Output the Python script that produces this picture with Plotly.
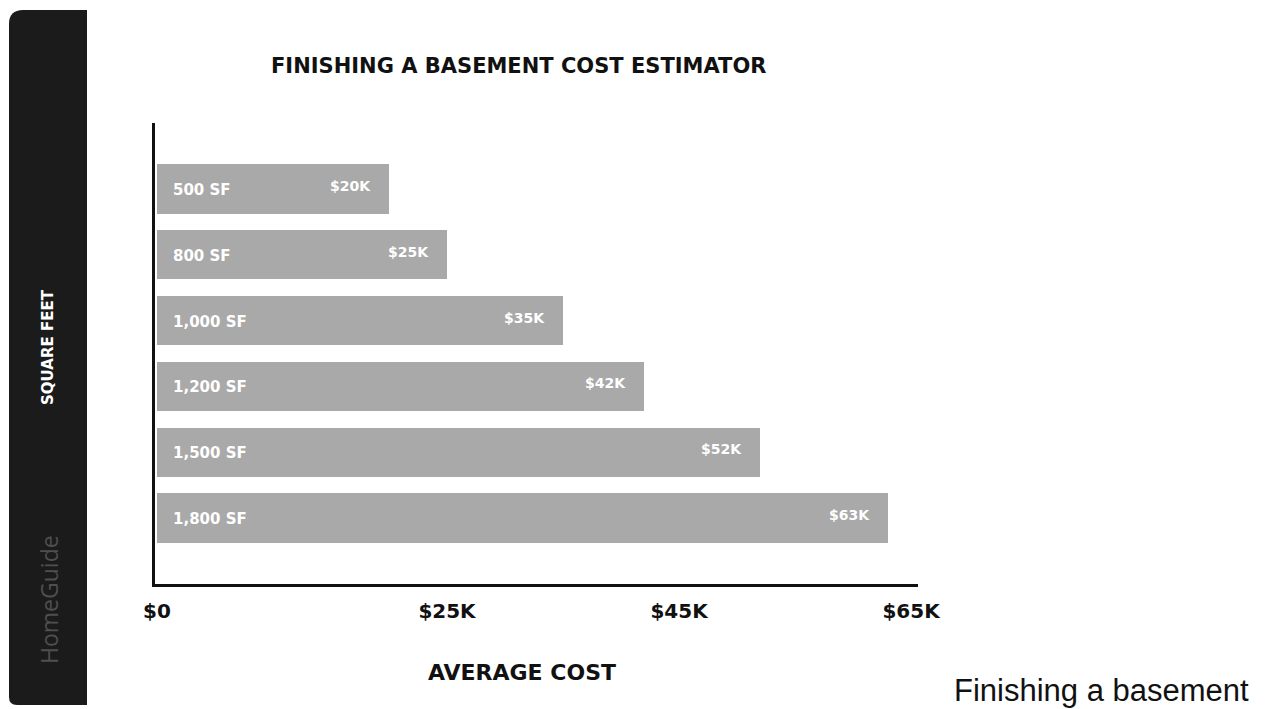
import plotly.graph_objects as go

# Basement finishing cost by floor area
sizes = ["500 SF", "800 SF", "1,000 SF", "1,200 SF", "1,500 SF", "1,800 SF"]
costs_k = [20, 25, 35, 42, 52, 63]
cost_labels = ["$20K", "$25K", "$35K", "$42K", "$52K", "$63K"]
tick_values = [0, 25, 45, 65]
tick_labels = ["$0", "$25K", "$45K", "$65K"]

W, H = 1266, 709
BAR_COLOR = "#a9a9a9"
BOLD_FONT = "DejaVu Sans"


def px(x):
    return x / W


def py(y):
    return 1 - y / H


idx = list(range(len(sizes)))

fig = go.Figure()
fig.add_trace(go.Bar(
    x=costs_k,
    y=idx,
    orientation="h",
    width=0.75,
    marker=dict(color=BAR_COLOR, line=dict(width=0)),
    hoverinfo="skip",
    showlegend=False,
))

annotations = []
for i, (s, c, lab) in enumerate(zip(sizes, costs_k, cost_labels)):
    annotations.append(dict(
        x=0, y=i, xref="x", yref="y", text=s, showarrow=False,
        xanchor="left", yanchor="middle", xshift=14, yshift=-1,
        font=dict(family=BOLD_FONT, size=15, color="white", weight="bold"),
    ))
    annotations.append(dict(
        x=c, y=i, xref="x", yref="y", text=lab, showarrow=False,
        xanchor="right", yanchor="middle", xshift=-16, yshift=3,
        font=dict(family=BOLD_FONT, size=14, color="white", weight="bold"),
    ))

# titles and side panel text
annotations += [
    dict(x=px(518), y=py(66), xref="paper", yref="paper",
         xanchor="center", yanchor="middle",
         text="FINISHING A BASEMENT COST ESTIMATOR", showarrow=False,
         font=dict(family=BOLD_FONT, size=21, color="#111", weight="bold")),
    dict(x=px(522), y=py(672), xref="paper", yref="paper",
         xanchor="center", yanchor="middle",
         text="AVERAGE COST", showarrow=False,
         font=dict(family=BOLD_FONT, size=22, color="#111", weight="bold")),
    dict(x=px(48), y=py(347), xref="paper", yref="paper",
         xanchor="center", yanchor="middle",
         text="SQUARE FEET", showarrow=False, textangle=-90,
         font=dict(family=BOLD_FONT, size=15, color="white", weight="bold")),
    dict(x=px(49), y=py(600), xref="paper", yref="paper",
         xanchor="center", yanchor="middle",
         text="HomeGuide", showarrow=False, textangle=-90,
         font=dict(family="Open Sans", size=23, color="#4f4f4f")),
    dict(x=px(1101), y=py(690), xref="paper", yref="paper",
         xanchor="center", yanchor="middle",
         text="Finishing a basement", showarrow=False,
         font=dict(family="Liberation Sans", size=31, color="#111")),
]

# dark side panel with rounded left corners
x0, x1, y0, y1 = px(9), px(87), py(705), py(10)
path = (f"M {x0} {y0 + 8/H} L {x0} {y1 - 14/H} Q {x0} {y1} {x0 + 14/W} {y1} "
        f"L {x1} {y1} L {x1} {y0} L {x0 + 8/W} {y0} Q {x0} {y0} {x0} {y0 + 8/H} Z")
shapes = [dict(type="path", path=path, xref="paper", yref="paper",
               fillcolor="#1b1b1b", line=dict(width=0), layer="below")]

fig.update_layout(
    width=W, height=H, autosize=False,
    margin=dict(l=0, r=0, t=0, b=0, pad=0, autoexpand=False),
    paper_bgcolor="white", plot_bgcolor="white",
    bargap=0,
    annotations=annotations,
    shapes=shapes,
    xaxis=dict(
        domain=[px(155), px(918)],
        range=[-0.17, 65.6],
        automargin=False,
        showgrid=False, zeroline=False,
        showline=True, linecolor="#111", linewidth=3,
        tickvals=tick_values, ticktext=tick_labels,
        ticks="", ticklabelstandoff=7,
        tickfont=dict(family=BOLD_FONT, size=20, color="#111", weight="bold"),
    ),
    yaxis=dict(
        domain=[py(584), py(123)],
        range=[6, -1],
        automargin=False,
        showgrid=False, zeroline=False,
        showline=True, linecolor="#111", linewidth=3,
        showticklabels=False, ticks="",
    ),
)

fig.write_html("out.html")
